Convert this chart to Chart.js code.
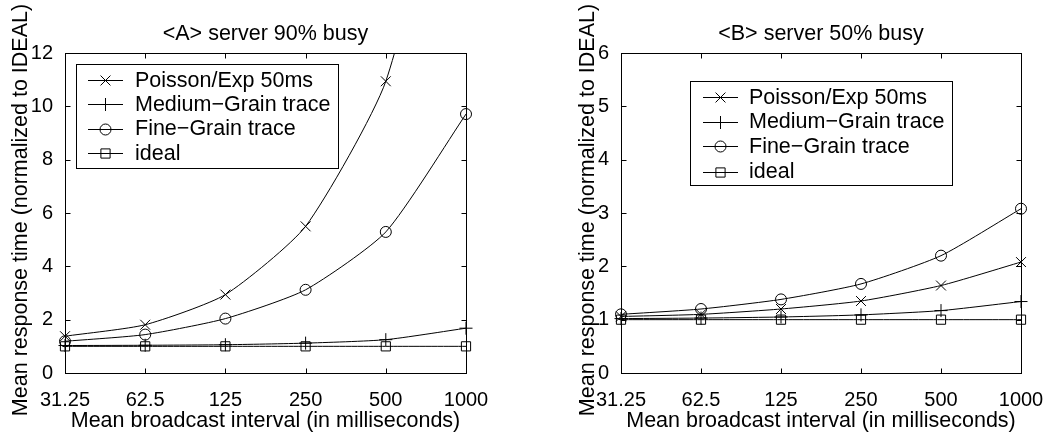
<!DOCTYPE html>
<html lang="en">
<head>
<meta charset="UTF-8">
<title>Mean response time</title>
<style>
  body { margin: 0; background: #fff; }
  .box { position: absolute; top: 0; width: 528px; height: 433px; }
</style>
</head>
<body>
<div class="box" style="left:0px;"><canvas id="chartA" width="528" height="433"></canvas></div>
<div class="box" style="left:528px;"><canvas id="chartB" width="528" height="433"></canvas></div>

<script src="https://cdn.jsdelivr.net/npm/chart.js"></script>
<script>
// broadcast intervals (ms)
const intervals = ['31.25', '62.5', '125', '250', '500', '1000'];
const seriesNames = ['Poisson/Exp 50ms', 'Medium\u2212Grain trace', 'Fine\u2212Grain trace', 'ideal'];

// <A> server 90% busy
const a_poisson = [1.38, 1.81, 2.94, 5.5, 10.94, 23];
const a_medium  = [1.03, 1.04, 1.06, 1.12, 1.25, 1.68];
const a_fine    = [1.19, 1.44, 2.04, 3.12, 5.29, 9.71];
const a_ideal   = [1, 1, 1, 1, 1, 1];
const a_yTicks  = [0, 2, 4, 6, 8, 10, 12];

// <B> server 50% busy
const b_poisson = [1.06, 1.1, 1.2, 1.35, 1.64, 2.08];
const b_medium  = [1.02, 1.03, 1.05, 1.09, 1.17, 1.34];
const b_fine    = [1.1, 1.2, 1.38, 1.67, 2.2, 3.08];
const b_ideal   = [1, 1, 1, 1, 1, 1];
const b_yTicks  = [0, 1, 2, 3, 4, 5, 6];

const xTitle = 'Mean broadcast interval (in milliseconds)';
const yTitle = 'Mean response time (normalized to IDEAL)';
const fontFamily = '"Liberation Sans", Arial, Helvetica, sans-serif';
const textFont = '21.5px ' + fontFamily;
const markers = [
    { style: 'crossRot', r: 7 },
    { style: 'cross', r: 6.5 },
    { style: 'circle', r: 5.5 },
    { style: 'rect', r: 6.5 }
];

function makeSets(lists) {
    return lists.map((d, i) => ({
        label: seriesNames[i],
        data: d,
        borderColor: '#000',
        borderWidth: 1,
        fill: false,
        tension: 0.2,
        pointStyle: markers[i].style,
        pointRadius: markers[i].r,
        pointBorderColor: '#000',
        pointBackgroundColor: 'rgba(0,0,0,0)',
        pointBorderWidth: 1
    }));
}

function drawMarker(ctx, m, x, y) {
    if (Chart.helpers && Chart.helpers.drawPoint) {
        Chart.helpers.drawPoint(ctx, { pointStyle: m.style, radius: m.r, rotation: 0, borderWidth: 1 }, x, y);
    }
}

// frame with inner ticks, titles and boxed legend
function framePlugin(cfg) {
    return {
        id: 'frame' + cfg.id,
        afterDraw(chart) {
            const ctx = chart.ctx, a = chart.chartArea;
            const xs = chart.scales.x, ys = chart.scales.y;
            const L = Math.round(a.left) + 0.5, R = Math.round(a.right) + 0.5;
            const T = Math.round(a.top) + 0.5, B = Math.round(a.bottom) + 0.5;
            ctx.save();
            ctx.strokeStyle = '#000';
            ctx.lineWidth = 1;
            ctx.strokeRect(L, T, R - L, B - T);
            ctx.beginPath();
            xs.ticks.forEach((t, i) => {
                const px = Math.round(xs.getPixelForTick(i)) + 0.5;
                ctx.moveTo(px, B); ctx.lineTo(px, B - 5);
                ctx.moveTo(px, T); ctx.lineTo(px, T + 5);
            });
            ys.ticks.forEach(t => {
                const py = Math.round(ys.getPixelForValue(t.value)) + 0.5;
                ctx.moveTo(L, py); ctx.lineTo(L + 5, py);
                ctx.moveTo(R, py); ctx.lineTo(R - 5, py);
            });
            ctx.stroke();

            ctx.fillStyle = '#000';
            ctx.font = textFont;
            ctx.textAlign = 'center';
            ctx.textBaseline = 'alphabetic';
            ctx.fillText(cfg.title, (a.left + a.right) / 2, 40);
            ctx.fillText(xTitle, (a.left + a.right) / 2, 427);
            ctx.save();
            ctx.translate(cfg.yTitleX, 210);
            ctx.rotate(-Math.PI / 2);
            ctx.textBaseline = 'middle';
            ctx.fillText(yTitle, 0, 0);
            ctx.restore();

            // legend
            const lg = cfg.legend;
            ctx.fillStyle = '#fff';
            ctx.fillRect(lg.x1, lg.y1, lg.x2 - lg.x1, lg.y2 - lg.y1);
            ctx.strokeRect(lg.x1 + 0.5, lg.y1 + 0.5, lg.x2 - lg.x1, lg.y2 - lg.y1);
            ctx.textAlign = 'left';
            ctx.textBaseline = 'middle';
            seriesNames.forEach((name, i) => {
                const y = Math.round(lg.rows[i]) + 0.5;
                ctx.strokeStyle = '#000';
                ctx.beginPath();
                ctx.moveTo(lg.lineX1, y); ctx.lineTo(lg.lineX2, y);
                ctx.stroke();
                ctx.fillStyle = 'rgba(0,0,0,0)';
                drawMarker(ctx, markers[i], (lg.lineX1 + lg.lineX2) / 2, y);
                ctx.fillStyle = '#000';
                ctx.fillText(name, lg.textX, lg.rows[i] + 1);
            });
            ctx.restore();
        }
    };
}

function makeChart(id, lists, yMax, yStep, yWidth, padRight, cfg) {
    return new Chart(document.getElementById(id), {
        type: 'line',
        data: { labels: intervals, datasets: makeSets(lists) },
        options: {
            responsive: false,
            animation: false,
            devicePixelRatio: 1,
            layout: { padding: { left: 0, top: 53, right: padRight, bottom: 0 } },
            elements: { line: { capBezierPoints: false } },
            plugins: { legend: { display: false }, tooltip: { enabled: false } },
            scales: {
                x: {
                    type: 'category',
                    offset: false,
                    grid: { display: false },
                    border: { display: false },
                    afterFit: s => { s.height = 60; },
                    ticks: {
                        color: '#000', padding: 7, autoSkip: false, maxRotation: 0,
                        font: { family: fontFamily, size: 20 }
                    }
                },
                y: {
                    min: 0, max: yMax,
                    grid: { display: false },
                    border: { display: false },
                    afterFit: s => { s.width = yWidth; },
                    ticks: {
                        color: '#000', padding: 4, stepSize: yStep,
                        font: { family: fontFamily, size: 20 }
                    }
                }
            }
        },
        plugins: [framePlugin(cfg)]
    });
}

makeChart('chartA', [a_poisson, a_medium, a_fine, a_ideal], a_yTicks[a_yTicks.length - 1], 2, 65, 62, {
    id: 'A',
    title: '<A> server 90% busy',
    yTitleX: 21,
    legend: { x1: 76, y1: 64, x2: 338, y2: 168, lineX1: 88, lineX2: 123, textX: 135, rows: [80, 104, 128.5, 153] }
});

makeChart('chartB', [b_poisson, b_medium, b_fine, b_ideal], b_yTicks[b_yTicks.length - 1], 1, 93, 35, {
    id: 'B',
    title: '<B> server 50% busy',
    yTitleX: 60.5,
    legend: { x1: 162, y1: 81, x2: 424, y2: 185, lineX1: 175, lineX2: 210, textX: 221, rows: [97, 121.5, 146, 171.5] }
});
</script>
</body>
</html>
